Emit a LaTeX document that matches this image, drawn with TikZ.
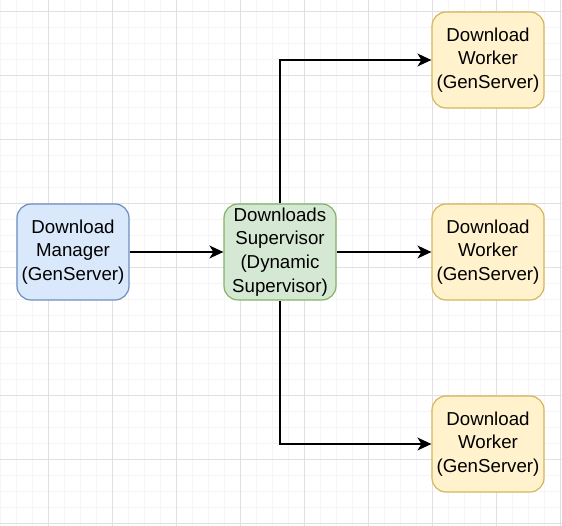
\documentclass[tikz,border=0pt]{standalone}
\usepackage{fontspec}
\setmainfont{Liberation Sans}
\usepackage{tikz}
\usetikzlibrary{arrows.meta, positioning}
\definecolor{mgrfill}{HTML}{DAE8FC}
\definecolor{mgrline}{HTML}{6C8EBF}
\definecolor{supfill}{HTML}{D5E8D4}
\definecolor{supline}{HTML}{82B366}
\definecolor{wrkfill}{HTML}{FFF2CC}
\definecolor{wrkline}{HTML}{D6B656}
\definecolor{gridminor}{HTML}{F5F5F5}
\definecolor{gridmajor}{HTML}{E0E0E0}

\begin{document}
\begin{tikzpicture}[
    x=1pt,
    y=1pt,
    font=\fontsize{18.7}{23.8}\selectfont,
    procbox/.style={
        rounded corners=14pt,
        line width=1.2pt,
        minimum width=112pt,
        minimum height=96pt,
        align=center,
        inner sep=1pt
    },
    managerbox/.style={
        procbox,
        draw=mgrline,
        fill=mgrfill
    },
    supervisorbox/.style={
        procbox,
        draw=supline,
        fill=supfill
    },
    workerbox/.style={
        procbox,
        draw=wrkline,
        fill=wrkfill
    },
    arr/.style={
        -{Stealth[length=14pt,width=13pt,inset=4pt]},
        draw=black,
        line width=1.4pt
    }
]

\useasboundingbox (0,0) rectangle (562,526);

% -----------------------------------------------------
% Gitter
% -----------------------------------------------------

\begin{scope}
    \clip (0,0) rectangle (562,526);
    \foreach \gx in {0,16,...,560}
        \draw[gridminor, line width=1pt] (\gx,0) -- (\gx,526);
    \foreach \gy in {2,18,...,526}
        \draw[gridminor, line width=1pt] (0,\gy) -- (562,\gy);
    \foreach \gx in {48,112,...,560}
        \draw[gridmajor, line width=1pt] (\gx,0) -- (\gx,526);
    \foreach \gy in {2,66,...,526}
        \draw[gridmajor, line width=1pt] (0,\gy) -- (562,\gy);
\end{scope}

% -----------------------------------------------------
% Noder
% -----------------------------------------------------

\node[managerbox] (manager) at (73,274)
{
    Download\\
    Manager\\
    (GenServer)
};

\node[supervisorbox] (supervisor) at (280,274)
{
    Downloads\\
    Supervisor\\
    (Dynamic\\
    Supervisor)
};

\node[workerbox] (workertop) at (488,466)
{
    Download\\
    Worker\\
    (GenServer)
};

\node[workerbox] (workermid) at (488,274)
{
    Download\\
    Worker\\
    (GenServer)
};

\node[workerbox] (workerbot) at (488,82)
{
    Download\\
    Worker\\
    (GenServer)
};

% -----------------------------------------------------
% Forbindelser
% -----------------------------------------------------

\draw[arr] (manager.east) -- (supervisor.west);

\draw[arr] (supervisor.north) |- (workertop.west);
\draw[arr] (supervisor.east) -- (workermid.west);
\draw[arr] (supervisor.south) |- (workerbot.west);

\end{tikzpicture}
\end{document}
